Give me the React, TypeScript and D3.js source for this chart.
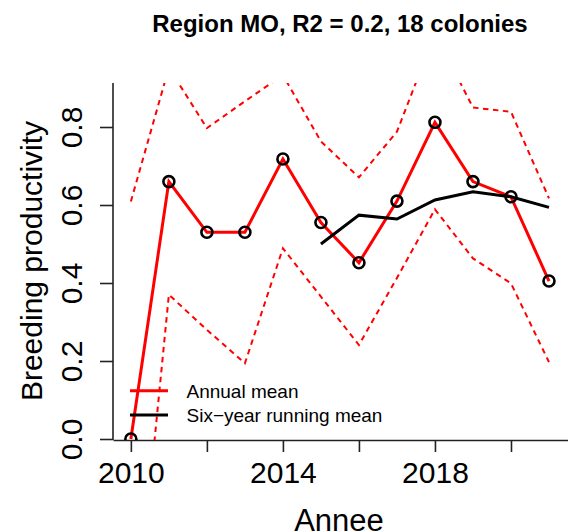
import { useEffect, useRef } from 'react';
import * as d3 from 'd3';

// values
const years = [2010, 2011, 2012, 2013, 2014, 2015, 2016, 2017, 2018, 2019, 2020, 2021];
const annualMean = [0.0, 0.66, 0.53, 0.53, 0.718, 0.555, 0.452, 0.61, 0.812, 0.66, 0.621, 0.405];
const upperBound = [0.609, 0.952, 0.797, 0.866, 0.933, 0.763, 0.671, 0.788, 1.04, 0.85, 0.839, 0.617];
const lowerBound = [-0.62, 0.37, 0.28, 0.194, 0.489, 0.365, 0.241, 0.413, 0.589, 0.463, 0.399, 0.197];

const runningYears = [2015, 2016, 2017, 2018, 2019, 2020, 2021];
const runningMean = [0.5, 0.574, 0.564, 0.613, 0.634, 0.621, 0.594];

const xTicks = [2010, 2012, 2014, 2016, 2018, 2020];
const xLabels = [2010, 2014, 2018];
const yTicks = [0, 0.2, 0.4, 0.6, 0.8];

const legendItems = [
  { label: 'Annual mean', color: 'red' },
  { label: 'Six\u2212year running mean', color: 'black' },
];

const FONT = "'Liberation Sans', Arial, Helvetica, sans-serif";

export default function App() {
  const ref = useRef<SVGSVGElement>(null);

  useEffect(() => {
    if (!ref.current) return;
    const svg = d3.select(ref.current);
    svg.selectAll('*').remove();

    const width = 568;
    const height = 532;
    svg.attr('width', width).attr('height', height);

    // plot region
    const left = 113;
    const right = 568;
    const top = 83;
    const bottom = 440;

    const x = d3.scaleLinear().domain([2009.53, 2021.5]).range([left, right]);
    const y = d3.scaleLinear().domain([0, 0.8]).range([439, 127]);

    svg
      .append('defs')
      .append('clipPath')
      .attr('id', 'plot-clip')
      .append('rect')
      .attr('x', left)
      .attr('y', top)
      .attr('width', right - left)
      .attr('height', bottom - top);

    // title
    svg
      .append('text')
      .attr('x', 340)
      .attr('y', 32)
      .attr('text-anchor', 'middle')
      .attr('font-family', FONT)
      .attr('font-weight', 'bold')
      .attr('font-size', 24)
      .text('Region MO, R2 = 0.2, 18 colonies');

    // x axis
    const xAxis = svg
      .append('g')
      .attr('transform', `translate(0,${bottom})`)
      .call(
        d3
          .axisBottom(x)
          .tickValues(xTicks)
          .tickSize(12)
          .tickSizeOuter(0)
          .tickPadding(10)
          .tickFormat((d) => (xLabels.includes(d as number) ? String(d) : ''))
      );
    xAxis.select('.domain').attr('stroke', '#222').attr('stroke-width', 1.6);
    xAxis.selectAll('.tick line').attr('stroke', '#222').attr('stroke-width', 1.6);
    xAxis
      .selectAll('.tick text')
      .attr('font-family', FONT)
      .attr('font-size', 30)
      .attr('fill', 'black');

    // y axis
    const yAxis = svg
      .append('g')
      .attr('transform', `translate(${left},0)`)
      .call(d3.axisLeft(y).tickValues(yTicks).tickSize(13).tickFormat(d3.format('.1f')));
    yAxis.select('.domain').remove();
    yAxis.selectAll('.tick line').attr('stroke', '#222').attr('stroke-width', 1.6);
    yAxis
      .selectAll('.tick text')
      .attr('transform', 'rotate(-90)')
      .attr('x', 0)
      .attr('y', -31)
      .attr('dy', 0)
      .attr('text-anchor', 'middle')
      .attr('font-family', FONT)
      .attr('font-size', 30)
      .attr('fill', 'black');
    svg
      .append('line')
      .attr('x1', left)
      .attr('x2', left)
      .attr('y1', top)
      .attr('y2', bottom)
      .attr('stroke', '#222')
      .attr('stroke-width', 1.6);

    // axis titles
    svg
      .append('text')
      .attr('x', 339)
      .attr('y', 531)
      .attr('text-anchor', 'middle')
      .attr('font-family', FONT)
      .attr('font-size', 31)
      .text('Annee');
    svg
      .append('text')
      .attr('transform', 'translate(42,261) rotate(-90)')
      .attr('text-anchor', 'middle')
      .attr('font-family', FONT)
      .attr('font-size', 30)
      .text('Breeding productivity');

    const plot = svg.append('g').attr('clip-path', 'url(#plot-clip)');

    const line = d3
      .line<[number, number]>()
      .x((d) => x(d[0]))
      .y((d) => y(d[1]));

    const pairs = (xs: number[], vs: number[]) => xs.map((yr, i) => [yr, vs[i]] as [number, number]);

    // confidence bounds
    [upperBound, lowerBound].forEach((vals) => {
      plot
        .append('path')
        .attr('d', line(pairs(years, vals)))
        .attr('fill', 'none')
        .attr('stroke', 'red')
        .attr('stroke-width', 2)
        .attr('stroke-dasharray', '5.5,4.5');
    });

    // annual mean
    plot
      .append('path')
      .attr('d', line(pairs(years, annualMean)))
      .attr('fill', 'none')
      .attr('stroke', 'red')
      .attr('stroke-width', 3);

    plot
      .selectAll('circle')
      .data(pairs(years, annualMean))
      .enter()
      .append('circle')
      .attr('cx', (d) => x(d[0]))
      .attr('cy', (d) => y(d[1]))
      .attr('r', 5.5)
      .attr('fill', 'none')
      .attr('stroke', 'black')
      .attr('stroke-width', 2.6);

    // running mean
    plot
      .append('path')
      .attr('d', line(pairs(runningYears, runningMean)))
      .attr('fill', 'none')
      .attr('stroke', 'black')
      .attr('stroke-width', 3);

    // legend
    const legend = svg.append('g');
    legendItems.forEach((item, i) => {
      const ly = 390.7 + i * 24.3;
      legend
        .append('line')
        .attr('x1', 130)
        .attr('x2', 168)
        .attr('y1', ly)
        .attr('y2', ly)
        .attr('stroke', item.color)
        .attr('stroke-width', 3);
      legend
        .append('text')
        .attr('x', 186.5)
        .attr('y', ly + 6.8)
        .attr('font-family', FONT)
        .attr('font-size', 19)
        .text(item.label);
    });
  }, []);

  return <svg ref={ref} style={{ position: 'absolute', left: 0, top: 0, background: 'white' }} />;
}
